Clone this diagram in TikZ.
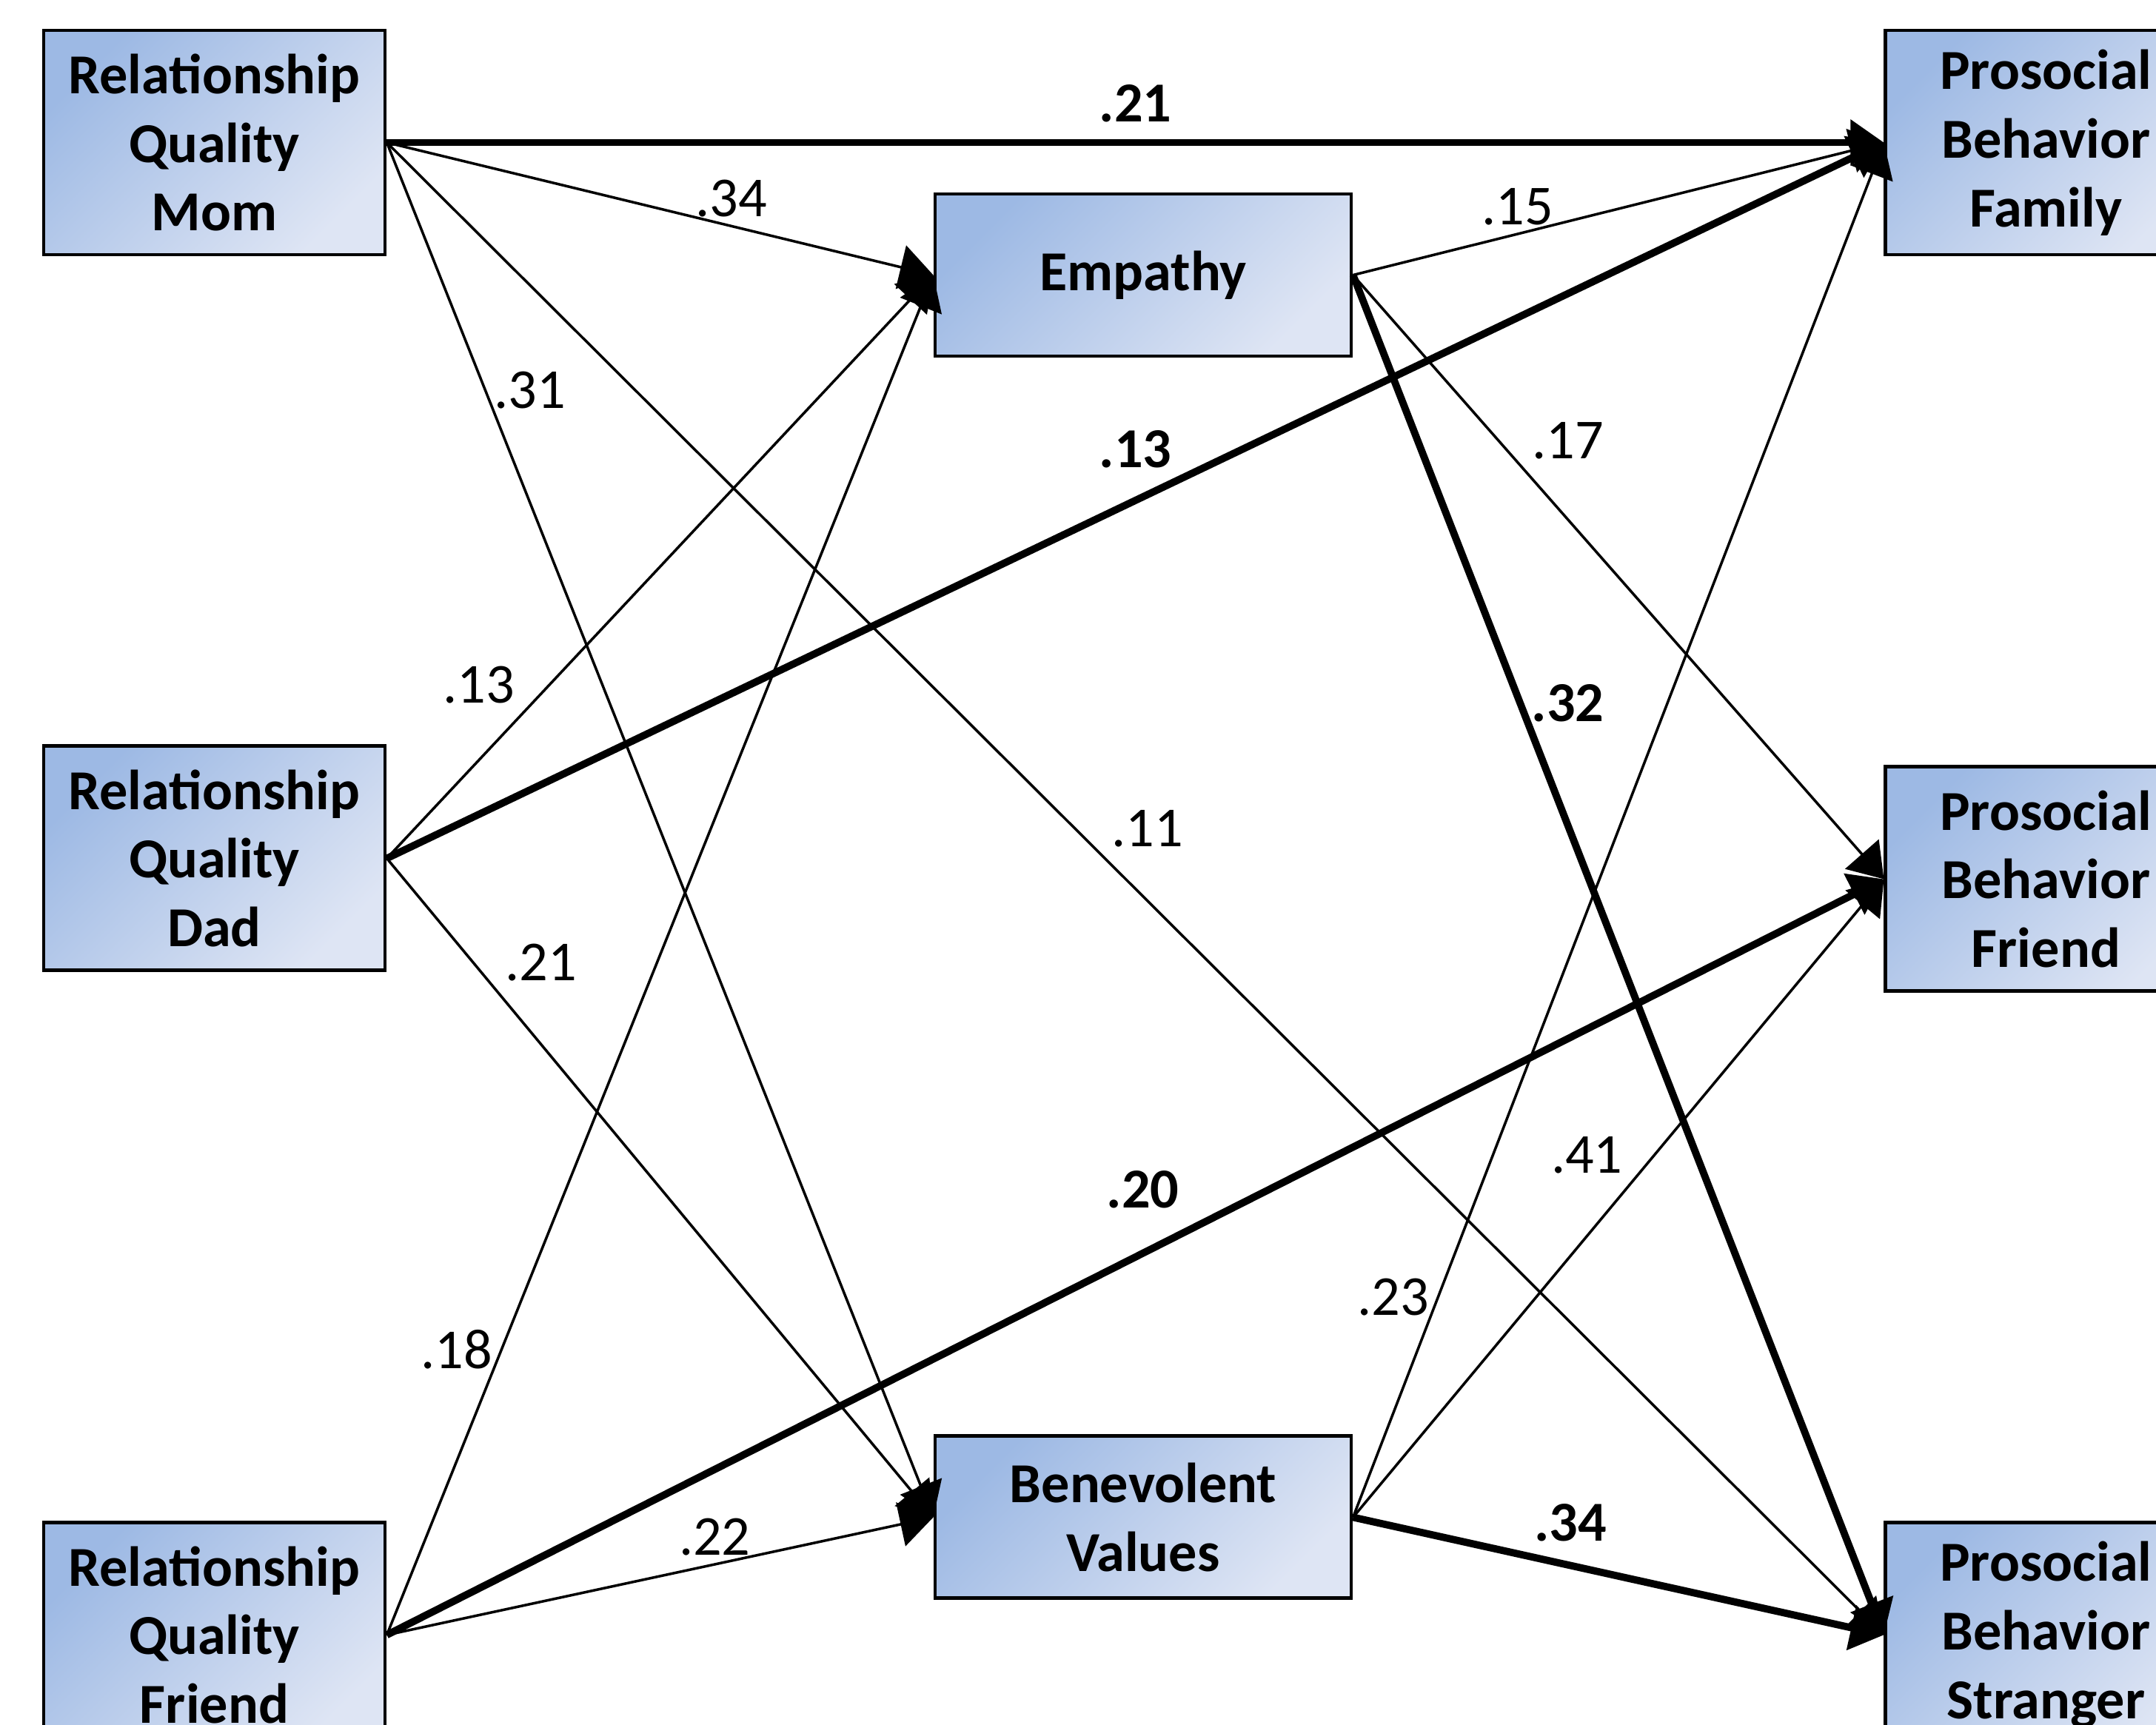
\documentclass[tikz,border=0pt]{standalone}
\usepackage{fontspec}
\setmainfont{Carlito}
\usetikzlibrary{positioning,arrows.meta}
\definecolor{boxdark}{RGB}{157,185,228}
\definecolor{boxlight}{RGB}{222,229,244}

\begin{document}
\begin{tikzpicture}[
		var/.style={draw, line width=1.4pt, align=center, inner sep=0pt,
			minimum width=4.61cm, minimum height=3.03cm,
			top color=boxdark, bottom color=boxlight, shading angle=45,
			font=\fontsize{21.7}{26.4}\selectfont\bfseries},
		outcome/.style={var, minimum width=4.33cm},
		mediator/.style={var, minimum width=5.62cm, minimum height=2.19cm},
		coef/.style={font=\fontsize{21.7}{26.4}\selectfont, inner sep=3pt},
		strong/.style={coef, font=\fontsize{21.7}{26.4}\selectfont\bfseries},
		link/.style={line width=1pt, -{Triangle[length=0.45cm,width=0.6cm]}},
		heavy/.style={link, line width=2.8pt},
		]

		\useasboundingbox (0,0) rectangle (29.12,-23.29);
		\clip (0,0) rectangle (29.12,-23.29);

		\node (mom) [var] at (2.895,-1.925) {Relationship\\Quality\\Mom};
		\node (dad) [var, below=6.59cm of mom] {Relationship\\Quality\\Dad};
		\node (friend) [var, below=7.41cm of dad] {Relationship\\Quality\\Friend};
		\node (empathy) [mediator] at (15.44,-3.715) {Empathy};
		\node (benevolent) [mediator, below=14.54cm of empathy] {Benevolent\\Values};
		\node (family) [outcome, right=20.22cm of mom] {Prosocial\\Behavior\\Family};
		\node (pfriend) [outcome, right=20.22cm of dad, yshift=-0.28cm] {Prosocial\\Behavior\\Friend};
		\node (stranger) [outcome, right=20.22cm of friend] {Prosocial\\Behavior\\Stranger};

		\draw[heavy] (mom.east) -- (family.west) node[strong, midway, above=3.3pt] {.21};
		\draw[link] (mom.east) -- (empathy.west) node[coef, pos=.63, above] {.34};
		\draw[link] (mom.east) -- (benevolent.west) node[coef, pos=.18, right] {.31};
		\draw[link] (mom.east) -- (stranger.west) node[coef, pos=.478, above right] {.11};
		\draw[link] (dad.east) -- (empathy.west) node[coef, pos=.25, above left] {.13};
		\draw[heavy] (dad.east) -- (family.west) node[strong, pos=.5, above=8pt] {.13};
		\draw[link] (dad.east) -- (benevolent.west) node[coef, pos=.2, above right] {.21};
		\draw[link] (friend.east) -- (empathy.west) node[coef, pos=.21, left] {.18};
		\draw[heavy] (friend.east) -- (pfriend.west) node[strong, pos=.505, above=13pt] {.20};
		\draw[link] (friend.east) -- (benevolent.west) node[coef, pos=.6, above] {.22};
		\draw[link] (empathy.east) -- (family.west) node[coef, pos=.31, above] {.15};
		\draw[link] (empathy.east) -- (pfriend.west) node[coef, pos=.32, above right] {.17};
		\draw[heavy] (empathy.east) -- (stranger.west) node[strong, pos=.315, right] {.32};
		\draw[link] (benevolent.east) -- (family.west) node[coef, pos=.16, left] {.23};
		\draw[link] (benevolent.east) -- (pfriend.west) node[coef, pos=.525, above left] {.41};
		\draw[heavy] (benevolent.east) -- (stranger.west) node[strong, pos=.41, above=5pt] {.34};

	\end{tikzpicture}
\end{document}
